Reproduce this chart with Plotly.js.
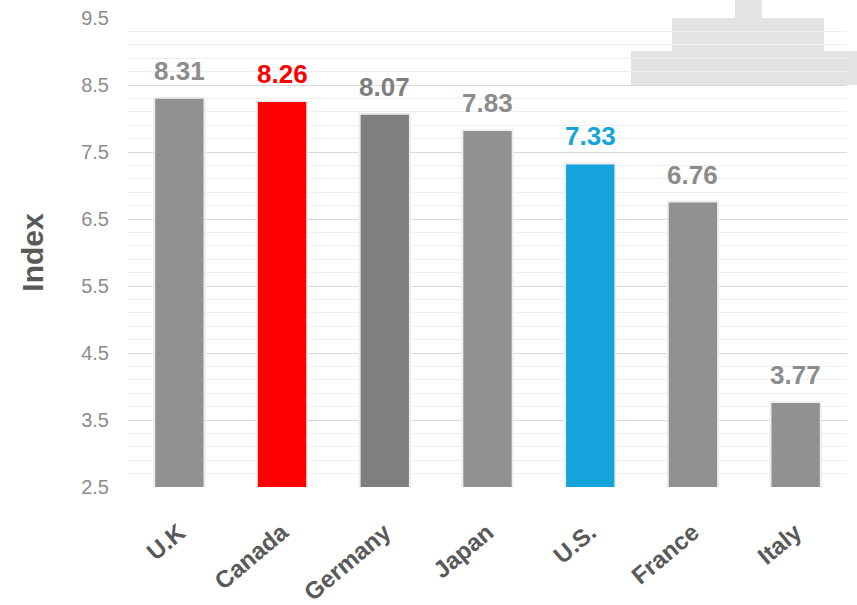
<!DOCTYPE html>
<html>
<head>
<meta charset="utf-8">
<script src="https://cdn.plot.ly/plotly-3.0.1.min.js"></script>
<style>html,body{margin:0;padding:0;background:#fff;}#chart{width:857px;height:605px;}</style>
</head>
<body>
<div id="chart"></div>
<script>
var countries = ["U.K", "Canada", "Germany", "Japan", "U.S.", "France", "Italy"];
var indexValues = [8.31, 8.26, 8.07, 7.83, 7.33, 6.76, 3.77];
var barColors = ["#919191", "#ff0000", "#7f7f7f", "#919191", "#15a3dc", "#919191", "#919191"];
var labelColors = ["#8c8c8c", "#ff0000", "#7f7f7f", "#8c8c8c", "#15a3dc", "#8c8c8c", "#8c8c8c"];
var yTicks = [2.5, 3.5, 4.5, 5.5, 6.5, 7.5, 8.5, 9.5];

var trace = {
  type: "bar",
  x: countries,
  y: indexValues,
  marker: { color: barColors, line: { color: "#eeeeee", width: 2 } },
  hoverinfo: "x+y"
};

var annotations = countries.map(function (c, i) {
  return {
    x: c, y: indexValues[i], xref: "x", yref: "y",
    text: "<b>" + indexValues[i].toFixed(2) + "</b>",
    showarrow: false, yanchor: "bottom", yshift: 10,
    font: { family: "Liberation Sans, Arial, sans-serif", size: 26, color: labelColors[i] }
  };
});

var L = 128, R = 847, T = 18, B = 487;
function px(x) { return (x - L) / (R - L); }
function py(y) { return (B - y) / (B - T); }
var podiumColor = "#e3e3e3";
var shapes = [
  { type: "rect", xref: "paper", yref: "paper", x0: px(735), x1: px(762), y0: py(18), y1: py(-5), fillcolor: podiumColor, line: { width: 0 }, layer: "below" },
  { type: "rect", xref: "paper", yref: "paper", x0: px(672), x1: px(824), y0: py(51), y1: py(18), fillcolor: podiumColor, line: { width: 0 }, layer: "below" },
  { type: "rect", xref: "paper", yref: "paper", x0: px(631), x1: px(860), y0: py(85), y1: py(51), fillcolor: podiumColor, line: { width: 0 }, layer: "below" }
];

var layout = {
  width: 857, height: 605,
  margin: { l: L, r: 857 - R, t: T, b: 605 - B, pad: 0 },
  paper_bgcolor: "#ffffff", plot_bgcolor: "rgba(0,0,0,0)",
  bargap: 0.51,
  showlegend: false,
  font: { family: "Liberation Sans, Arial, sans-serif" },
  xaxis: {
    type: "category",
    tickangle: -40,
    tickfont: { size: 24, color: "#595959", weight: "bold" },
    ticks: "outside", ticklen: 0, tickcolor: "rgba(0,0,0,0)",
    ticklabelstandoff: 21,
    showgrid: false, zeroline: false, showline: false
  },
  yaxis: {
    range: [2.5, 9.5],
    tickvals: yTicks,
    ticktext: yTicks.map(function (v) { return v.toFixed(1); }),
    tickfont: { size: 20, color: "#8c8c8c" },
    ticklabelstandoff: 18,
    showgrid: true, gridcolor: "#d9d9d9", gridwidth: 1,
    minor: { dtick: 0.2, tick0: 2.5, showgrid: true, gridcolor: "#efefef", gridwidth: 1 },
    zeroline: false, showline: false,
    title: { text: "<b>Index</b>", font: { size: 30, color: "#595959" }, standoff: 28 }
  },
  annotations: annotations,
  shapes: shapes
};

Plotly.newPlot("chart", [trace], layout, { displayModeBar: false, staticPlot: true });
</script>
</body>
</html>
